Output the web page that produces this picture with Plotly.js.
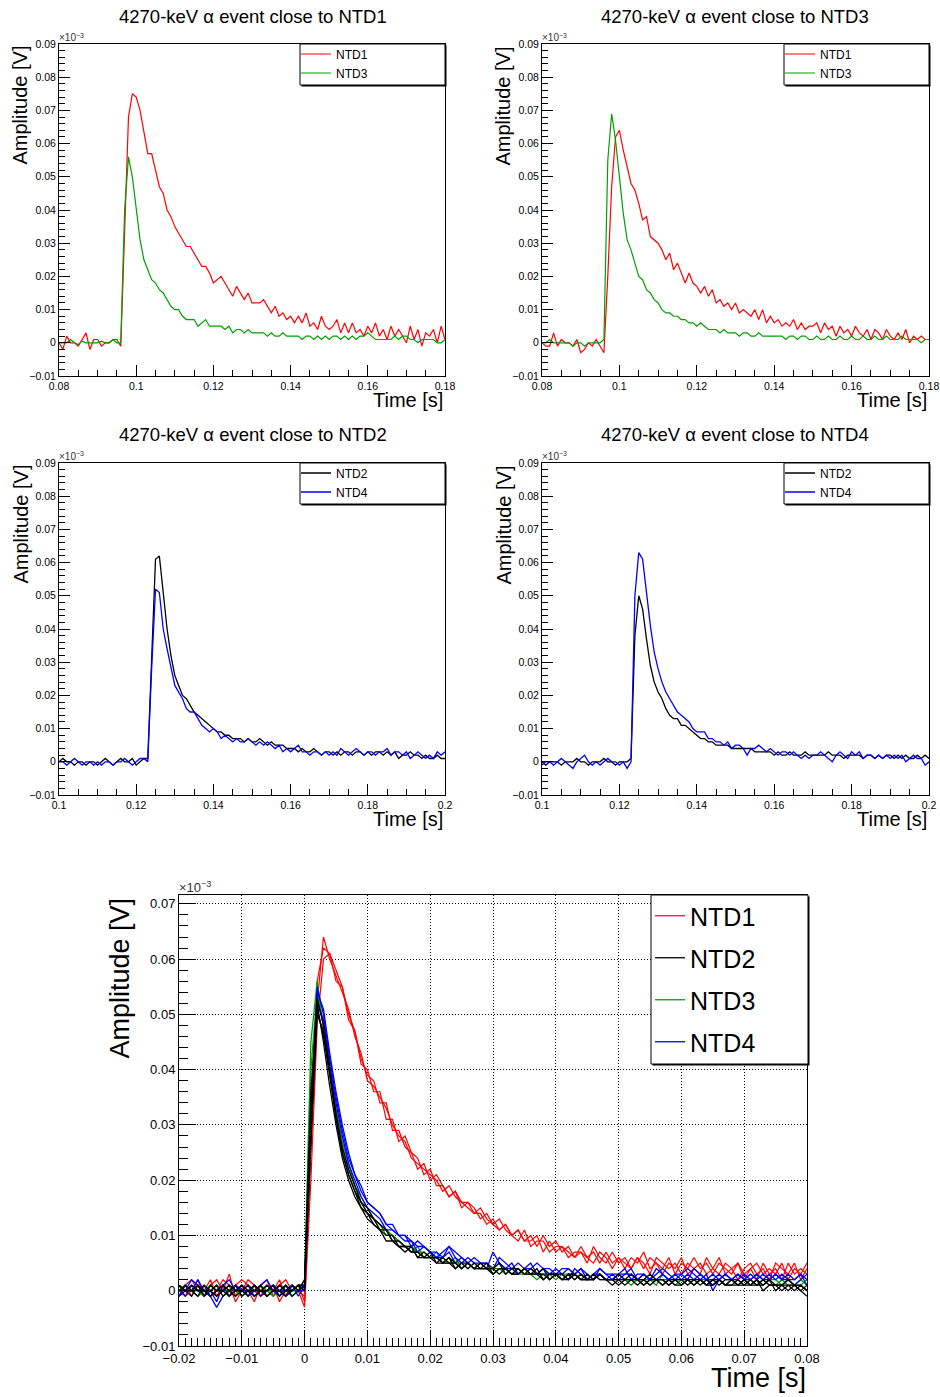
<!DOCTYPE html>
<html><head><meta charset="utf-8">
<script src="https://cdn.plot.ly/plotly-3.0.1.min.js"></script>
<style>html,body{margin:0;padding:0;background:#fff}#chart{width:940px;height:1397px}</style>
</head><body><div id="chart"></div>
<script>
// ---------- DATA (amplitudes in axis units, sampled every sampleStep seconds) ----------
const sampleStep = 0.001;
const evt1Start = 0.08, evt3Start = 0.08, evt2Start = 0.10, evt4Start = 0.10, overlayStart = -0.02;

const panelTitles = ["4270-keV \u03b1 event close to NTD1", "4270-keV \u03b1 event close to NTD3",
                     "4270-keV \u03b1 event close to NTD2", "4270-keV \u03b1 event close to NTD4"];
const channelNames = ["NTD1", "NTD2", "NTD3", "NTD4"];

// Panel 1: event close to NTD1
const evt1_NTD1 = [
 0.000,-0.002,0.002,0.000,0.000,-0.001,0.001,0.003,-0.002,0.001,
 0.001,-0.001,0.000,0.000,0.001,0.001,-0.001,0.035,0.068,0.075,
 0.074,0.070,0.064,0.057,0.057,0.052,0.047,0.045,0.040,0.038,
 0.035,0.033,0.031,0.029,0.029,0.027,0.025,0.023,0.023,0.021,
 0.018,0.019,0.020,0.018,0.016,0.014,0.017,0.015,0.013,0.015,
 0.012,0.012,0.012,0.013,0.011,0.009,0.011,0.008,0.009,0.007,
 0.008,0.006,0.008,0.006,0.009,0.005,0.006,0.004,0.008,0.005,
 0.004,0.005,0.007,0.003,0.006,0.003,0.006,0.003,0.004,0.002,
 0.005,0.003,0.006,0.002,0.004,0.001,0.005,0.002,0.004,0.002,
 0.000,0.005,0.001,0.004,-0.001,0.003,0.002,0.004,0.000,0.005,
 0.001];
const evt1_NTD3 = [
 0.000,0.000,0.000,0.001,0.000,-0.0005,0.0005,0.000,0.000,0.000,
 0.000,0.0005,0.000,0.000,0.001,0.000,0.000,0.040,0.056,0.050,
 0.041,0.031,0.025,0.022,0.019,0.018,0.016,0.015,0.013,0.011,
 0.010,0.010,0.008,0.007,0.007,0.007,0.005,0.006,0.007,0.005,
 0.005,0.005,0.005,0.004,0.005,0.003,0.004,0.004,0.003,0.004,
 0.003,0.003,0.003,0.003,0.002,0.003,0.002,0.002,0.003,0.002,
 0.002,0.002,0.002,0.001,0.002,0.002,0.001,0.002,0.001,0.002,
 0.001,0.002,0.002,0.001,0.002,0.001,0.002,0.001,0.002,0.002,
 0.003,0.002,0.001,0.001,0.001,0.001,0.001,0.002,0.001,0.002,
 0.002,0.001,0.001,0.000,0.001,0.001,0.001,0.001,0.000,0.000,
 0.001];

// Panel 2: event close to NTD3
const evt3_NTD1 = [
 0.000,-0.001,-0.001,0.003,-0.001,0.001,0.000,0.000,-0.001,0.001,
 -0.003,-0.002,0.000,-0.001,0.001,-0.001,-0.003,0.020,0.047,0.062,
 0.064,0.058,0.053,0.048,0.046,0.042,0.037,0.038,0.032,0.031,
 0.030,0.028,0.025,0.027,0.022,0.024,0.021,0.018,0.021,0.018,
 0.017,0.015,0.017,0.014,0.016,0.012,0.013,0.011,0.012,0.010,
 0.012,0.009,0.010,0.009,0.008,0.010,0.007,0.010,0.006,0.008,
 0.006,0.007,0.005,0.006,0.005,0.007,0.004,0.006,0.004,0.005,
 0.005,0.006,0.003,0.006,0.004,0.005,0.002,0.005,0.003,0.004,
 0.002,0.005,0.003,0.002,0.004,0.001,0.004,0.003,0.001,0.004,
 0.002,0.001,0.003,0.001,0.004,0.000,0.002,0.001,0.002,0.001,
 0.001];
const evt3_NTD3 = [
 0.000,0.000,0.001,0.000,0.000,0.000,0.000,0.000,-0.001,0.000,
 0.000,-0.001,0.000,0.000,0.000,0.000,0.001,0.055,0.069,0.061,
 0.050,0.039,0.031,0.028,0.024,0.020,0.019,0.016,0.015,0.013,
 0.012,0.010,0.009,0.009,0.008,0.008,0.007,0.007,0.006,0.006,
 0.005,0.006,0.005,0.004,0.004,0.004,0.003,0.004,0.003,0.003,
 0.003,0.002,0.003,0.003,0.002,0.002,0.003,0.002,0.002,0.002,
 0.002,0.002,0.002,0.001,0.002,0.002,0.001,0.002,0.002,0.001,
 0.001,0.002,0.001,0.001,0.002,0.001,0.001,0.002,0.001,0.001,
 0.002,0.001,0.001,0.002,0.001,0.001,0.002,0.001,0.001,0.002,
 0.001,0.001,0.001,0.002,0.001,0.001,0.001,0.001,0.000,0.001,
 0.001];

// Panel 3: event close to NTD2
const evt2_NTD2 = [
 0.000,0.001,0.000,0.000,-0.001,0.000,0.000,-0.001,0.000,0.000,
 -0.001,0.000,0.001,0.000,-0.001,0.000,0.001,0.000,0.000,0.001,
 -0.001,0.000,0.001,0.001,0.032,0.061,0.062,0.050,0.040,0.032,
 0.026,0.023,0.020,0.019,0.017,0.015,0.014,0.013,0.012,0.011,
 0.010,0.009,0.009,0.008,0.008,0.007,0.007,0.007,0.006,0.007,
 0.006,0.006,0.007,0.006,0.005,0.006,0.005,0.005,0.005,0.004,
 0.004,0.004,0.003,0.004,0.003,0.003,0.004,0.003,0.002,0.003,
 0.003,0.002,0.003,0.002,0.003,0.003,0.002,0.003,0.003,0.002,
 0.003,0.002,0.003,0.003,0.002,0.003,0.002,0.003,0.001,0.002,
 0.002,0.003,0.002,0.002,0.001,0.002,0.001,0.001,0.002,0.001,
 0.001];
const evt2_NTD4 = [
 0.000,0.000,-0.001,0.000,0.001,0.000,-0.001,0.000,0.000,-0.001,
 0.000,-0.001,0.000,0.000,-0.001,0.000,0.000,0.001,0.000,-0.001,
 0.000,0.001,0.001,0.000,0.028,0.052,0.051,0.040,0.034,0.028,
 0.023,0.021,0.019,0.016,0.015,0.015,0.013,0.011,0.010,0.009,
 0.010,0.009,0.007,0.008,0.007,0.006,0.007,0.006,0.006,0.007,
 0.006,0.005,0.006,0.005,0.006,0.005,0.004,0.005,0.003,0.004,
 0.003,0.004,0.005,0.003,0.003,0.002,0.003,0.003,0.002,0.003,
 0.002,0.003,0.002,0.004,0.003,0.002,0.003,0.004,0.003,0.002,
 0.003,0.003,0.002,0.003,0.003,0.004,0.002,0.003,0.003,0.002,
 0.003,0.001,0.002,0.003,0.002,0.001,0.002,0.001,0.003,0.002,
 0.003];

// Panel 4: event close to NTD4
const evt4_NTD2 = [
 0.000,-0.001,0.000,0.000,0.000,-0.001,0.000,0.000,0.000,0.001,
 0.000,0.000,-0.001,0.000,0.000,0.000,0.001,0.000,0.000,-0.001,
 0.000,0.000,0.000,0.001,0.038,0.050,0.046,0.037,0.029,0.024,
 0.021,0.019,0.016,0.014,0.013,0.013,0.011,0.011,0.010,0.009,
 0.008,0.007,0.007,0.006,0.006,0.005,0.005,0.005,0.005,0.004,
 0.004,0.004,0.004,0.004,0.004,0.003,0.003,0.003,0.003,0.003,
 0.002,0.003,0.002,0.002,0.003,0.002,0.002,0.002,0.003,0.002,
 0.002,0.002,0.002,0.002,0.003,0.002,0.002,0.002,0.001,0.002,
 0.002,0.002,0.002,0.001,0.002,0.002,0.001,0.002,0.001,0.002,
 0.002,0.001,0.002,0.001,0.002,0.001,0.001,0.002,0.001,0.002,
 0.001];
const evt4_NTD4 = [
 -0.001,0.000,0.000,-0.001,0.000,0.001,0.000,-0.001,-0.002,0.000,
 0.001,0.002,0.000,-0.001,0.000,-0.001,0.000,0.001,0.000,0.000,
 -0.001,0.000,-0.002,0.000,0.050,0.063,0.061,0.050,0.041,0.033,
 0.028,0.024,0.021,0.019,0.017,0.015,0.014,0.013,0.012,0.010,
 0.009,0.009,0.009,0.007,0.007,0.006,0.006,0.005,0.006,0.004,
 0.005,0.005,0.004,0.002,0.004,0.004,0.005,0.004,0.003,0.004,
 0.003,0.002,0.003,0.003,0.002,0.003,0.002,0.001,0.002,0.001,
 0.002,0.002,0.003,0.002,0.001,0.000,0.002,0.003,0.002,0.001,
 0.003,0.002,0.003,0.001,0.002,0.002,0.001,0.002,0.001,0.002,
 0.001,0.002,0.001,0.002,0.000,0.001,0.002,0.001,0.001,-0.001,
 0.000];

// Bottom panel: overlaid events, aligned at the rise
const overlay_NTD1 = [
 [0.001,-0.001,0.000,0.002,-0.001,0.001,0.002,0.000,0.003,-0.001,
  0.001,0.000,-0.002,0.001,0.002,-0.001,0.001,0.002,0.000,0.001,
  -0.002,0.025,0.052,0.064,0.060,0.057,0.054,0.051,0.046,0.043,
  0.038,0.037,0.035,0.033,0.030,0.028,0.027,0.024,0.023,0.022,
  0.021,0.020,0.018,0.019,0.017,0.016,0.016,0.014,0.015,0.013,
  0.012,0.013,0.011,0.010,0.011,0.009,0.010,0.008,0.010,0.008,
  0.009,0.007,0.008,0.006,0.008,0.006,0.007,0.005,0.007,0.005,
  0.006,0.004,0.006,0.005,0.007,0.004,0.005,0.004,0.006,0.003,
  0.005,0.004,0.006,0.004,0.005,0.003,0.005,0.004,0.003,0.005,
  0.003,0.004,0.002,0.005,0.003,0.004,0.002,0.005,0.003,0.004,
  0.003],
 [-0.001,0.001,0.002,0.000,-0.001,0.001,0.000,0.002,0.001,-0.002,
  0.000,0.002,0.001,-0.001,0.000,0.001,-0.002,0.000,0.001,0.000,
  -0.003,0.020,0.048,0.060,0.061,0.058,0.055,0.050,0.047,0.041,
  0.040,0.036,0.036,0.031,0.031,0.027,0.028,0.025,0.022,0.023,
  0.020,0.021,0.019,0.017,0.018,0.015,0.016,0.015,0.013,0.014,
  0.012,0.011,0.012,0.010,0.009,0.011,0.008,0.009,0.009,0.007,
  0.008,0.008,0.006,0.007,0.007,0.005,0.008,0.006,0.005,0.007,
  0.005,0.006,0.004,0.006,0.005,0.003,0.006,0.005,0.004,0.005,
  0.003,0.005,0.004,0.003,0.006,0.004,0.003,0.005,0.004,0.002,
  0.004,0.005,0.003,0.004,0.002,0.005,0.004,0.003,0.005,0.002,
  0.004],
 [0.000,0.001,-0.001,0.001,0.000,0.002,-0.001,0.001,0.000,0.001,
  0.002,0.001,0.000,-0.001,0.001,0.000,0.002,-0.001,0.001,0.000,
  -0.001,0.030,0.056,0.062,0.061,0.056,0.055,0.049,0.047,0.042,
  0.039,0.038,0.034,0.034,0.029,0.029,0.026,0.025,0.024,0.021,
  0.022,0.019,0.019,0.017,0.018,0.016,0.015,0.014,0.014,0.012,
  0.013,0.011,0.012,0.010,0.011,0.009,0.009,0.010,0.007,0.009,
  0.007,0.008,0.007,0.006,0.007,0.006,0.005,0.007,0.006,0.004,
  0.006,0.005,0.004,0.006,0.004,0.006,0.005,0.003,0.005,0.004,
  0.006,0.003,0.004,0.005,0.003,0.004,0.006,0.003,0.004,0.005,
  0.002,0.004,0.005,0.003,0.004,0.003,0.005,0.002,0.004,0.003,
  0.005]
];
const overlay_NTD2 = [
 [0.001,0.000,-0.001,0.001,0.000,0.000,0.001,-0.001,0.000,0.001,
  -0.001,0.000,0.000,0.001,-0.001,0.000,0.000,0.001,-0.001,0.000,
  0.001,0.030,0.051,0.046,0.039,0.031,0.025,0.021,0.018,0.016,
  0.014,0.013,0.011,0.010,0.010,0.008,0.008,0.008,0.006,0.007,
  0.006,0.006,0.005,0.006,0.004,0.005,0.005,0.004,0.005,0.004,
  0.004,0.005,0.003,0.004,0.004,0.003,0.004,0.003,0.004,0.002,
  0.003,0.003,0.002,0.003,0.002,0.003,0.002,0.003,0.002,0.002,
  0.003,0.002,0.002,0.001,0.002,0.003,0.002,0.001,0.002,0.002,
  0.002,0.001,0.002,0.002,0.001,0.002,0.001,0.002,0.002,0.001,
  0.002,0.001,0.002,0.001,0.002,0.000,0.001,0.002,0.001,0.000,
  0.001],
 [0.000,0.001,0.000,-0.001,0.001,0.000,-0.001,0.000,0.001,0.000,
  0.000,-0.001,0.001,0.000,0.000,0.001,-0.001,0.000,0.001,0.000,
  0.002,0.036,0.052,0.045,0.037,0.030,0.024,0.020,0.017,0.015,
  0.013,0.012,0.011,0.009,0.009,0.008,0.007,0.008,0.006,0.006,
  0.006,0.005,0.006,0.005,0.004,0.005,0.004,0.005,0.004,0.004,
  0.003,0.004,0.004,0.003,0.004,0.003,0.003,0.004,0.002,0.003,
  0.003,0.002,0.003,0.002,0.003,0.002,0.002,0.003,0.002,0.001,
  0.002,0.002,0.003,0.002,0.001,0.002,0.002,0.001,0.002,0.001,
  0.001,0.002,0.002,0.001,0.002,0.001,0.002,0.001,0.001,0.002,
  0.001,0.002,0.001,0.001,0.002,0.001,0.001,0.000,0.001,0.001,
  0.000],
 [-0.001,0.000,0.001,0.000,0.000,-0.001,0.000,0.001,0.000,-0.001,
  0.000,0.001,0.000,0.000,-0.001,0.000,0.001,0.000,0.000,0.001,
  0.000,0.027,0.050,0.047,0.040,0.032,0.026,0.022,0.019,0.016,
  0.015,0.013,0.012,0.011,0.009,0.009,0.008,0.007,0.007,0.006,
  0.007,0.005,0.005,0.006,0.005,0.004,0.005,0.004,0.004,0.005,
  0.003,0.004,0.004,0.003,0.003,0.004,0.003,0.003,0.003,0.002,
  0.003,0.002,0.003,0.003,0.002,0.002,0.003,0.002,0.002,0.002,
  0.001,0.002,0.002,0.002,0.001,0.002,0.002,0.002,0.001,0.002,
  0.002,0.002,0.001,0.002,0.001,0.002,0.002,0.001,0.001,0.001,
  0.002,0.001,0.001,0.002,0.001,0.001,0.001,0.001,0.000,0.001,
  0.000],
 [0.001,0.000,0.000,0.001,-0.001,0.001,0.000,0.000,-0.001,0.000,
  0.001,0.000,-0.001,0.000,0.001,0.000,0.000,-0.001,0.000,0.001,
  0.001,0.033,0.053,0.048,0.040,0.032,0.025,0.021,0.018,0.015,
  0.014,0.012,0.011,0.011,0.009,0.008,0.008,0.007,0.007,0.006,
  0.006,0.006,0.005,0.005,0.005,0.004,0.005,0.004,0.004,0.004,
  0.004,0.003,0.004,0.003,0.003,0.004,0.003,0.003,0.002,0.003,
  0.003,0.002,0.002,0.003,0.002,0.002,0.002,0.003,0.002,0.002,
  0.002,0.001,0.002,0.002,0.002,0.001,0.002,0.002,0.001,0.002,
  0.001,0.002,0.001,0.002,0.001,0.001,0.002,0.001,0.002,0.001,
  0.001,0.001,0.002,0.000,0.001,0.001,0.000,0.001,0.001,0.000,
  -0.001]
];
const overlay_NTD3 = [
 [0.000,0.001,0.000,0.000,-0.001,0.000,0.001,0.000,0.000,0.001,
  0.000,0.000,0.001,0.000,0.000,-0.001,0.000,0.001,0.000,0.000,
  0.002,0.045,0.056,0.047,0.039,0.032,0.026,0.022,0.019,0.016,
  0.014,0.013,0.012,0.011,0.010,0.009,0.008,0.008,0.007,0.007,
  0.006,0.006,0.006,0.005,0.005,0.005,0.004,0.005,0.004,0.004,
  0.004,0.004,0.003,0.004,0.003,0.003,0.003,0.003,0.003,0.003,
  0.003,0.002,0.003,0.003,0.002,0.002,0.003,0.002,0.002,0.002,
  0.002,0.002,0.002,0.002,0.002,0.001,0.002,0.002,0.002,0.001,
  0.002,0.002,0.001,0.002,0.002,0.001,0.002,0.001,0.002,0.002,
  0.001,0.002,0.001,0.002,0.001,0.001,0.002,0.001,0.001,0.002,
  0.001],
 [0.001,0.000,0.000,-0.001,0.000,0.001,0.000,0.000,0.001,0.000,
  -0.001,0.000,0.000,0.001,0.000,0.000,0.001,0.000,-0.001,0.000,
  0.001,0.040,0.054,0.048,0.040,0.033,0.027,0.023,0.019,0.017,
  0.015,0.013,0.012,0.010,0.010,0.009,0.008,0.007,0.008,0.006,
  0.006,0.007,0.005,0.005,0.006,0.004,0.005,0.004,0.005,0.004,
  0.003,0.004,0.004,0.003,0.004,0.003,0.003,0.002,0.003,0.003,
  0.002,0.003,0.003,0.002,0.003,0.002,0.002,0.003,0.002,0.002,
  0.003,0.002,0.001,0.002,0.002,0.002,0.001,0.003,0.002,0.002,
  0.001,0.002,0.002,0.002,0.001,0.002,0.002,0.001,0.002,0.001,
  0.002,0.001,0.002,0.001,0.002,0.002,0.001,0.002,0.001,0.001,
  0.002]
];
const overlay_NTD4 = [
 [0.001,0.000,0.002,0.001,-0.001,0.000,-0.002,0.001,0.002,0.000,
  0.001,-0.001,0.000,0.001,0.002,0.000,-0.001,0.001,0.000,0.001,
  0.001,0.032,0.055,0.050,0.042,0.035,0.029,0.024,0.021,0.018,
  0.016,0.015,0.014,0.012,0.011,0.010,0.010,0.009,0.008,0.008,
  0.007,0.007,0.006,0.008,0.007,0.006,0.005,0.006,0.005,0.005,
  0.004,0.006,0.005,0.004,0.005,0.004,0.004,0.005,0.004,0.003,
  0.004,0.003,0.004,0.003,0.004,0.003,0.002,0.004,0.003,0.003,
  0.003,0.004,0.002,0.003,0.003,0.002,0.004,0.003,0.002,0.003,
  0.003,0.002,0.004,0.003,0.002,0.003,0.002,0.003,0.002,0.002,
  0.003,0.002,0.003,0.002,0.003,0.002,0.003,0.002,0.002,0.003,
  0.002],
 [0.000,-0.001,0.001,0.000,0.001,-0.001,-0.003,-0.001,0.000,0.001,
  0.000,0.001,-0.001,0.000,0.000,0.001,0.000,-0.001,0.001,0.000,
  0.000,0.028,0.054,0.051,0.043,0.036,0.030,0.025,0.021,0.019,
  0.016,0.015,0.014,0.012,0.012,0.010,0.010,0.008,0.009,0.008,
  0.007,0.006,0.007,0.008,0.006,0.005,0.006,0.005,0.005,0.004,
  0.007,0.005,0.004,0.005,0.003,0.004,0.005,0.003,0.004,0.004,
  0.003,0.004,0.004,0.003,0.004,0.002,0.003,0.004,0.003,0.002,
  0.003,0.003,0.004,0.002,0.003,0.002,0.003,0.004,0.003,0.002,
  0.003,0.004,0.003,0.002,0.003,0.000,0.002,0.003,0.002,0.003,
  0.002,0.003,0.002,0.003,0.002,0.003,0.002,0.003,0.002,0.003,
  0.001],
 [-0.001,0.001,0.000,0.002,0.000,-0.001,0.000,0.001,-0.001,0.001,
  0.000,0.000,0.001,-0.001,0.000,0.001,0.000,0.000,0.001,-0.001,
  0.001,0.030,0.052,0.049,0.041,0.034,0.028,0.023,0.020,0.017,
  0.015,0.014,0.013,0.011,0.011,0.010,0.009,0.009,0.007,0.008,
  0.007,0.006,0.006,0.007,0.005,0.006,0.005,0.004,0.005,0.005,
  0.004,0.005,0.004,0.004,0.003,0.004,0.004,0.003,0.004,0.003,
  0.003,0.003,0.002,0.004,0.003,0.002,0.003,0.003,0.002,0.003,
  0.002,0.003,0.003,0.002,0.003,0.002,0.002,0.003,0.002,0.003,
  0.002,0.003,0.002,0.003,0.002,0.002,0.003,0.002,0.002,0.003,
  0.002,0.002,0.003,0.002,0.002,0.003,0.002,0.002,0.001,0.002,
  0.003]
];

// ---------- STYLE / LAYOUT ----------
const W = 940, H = 1397;
const FONT = "Liberation Sans, Arial, Helvetica, sans-serif";
const COL = {NTD1: "#ff0000", NTD2: "#000000", NTD3: "#00a000", NTD4: "#0000ff"};
const px = v => v / W, py = v => 1 - v / H;

// plot-area boxes in pixels [left, top, right, bottom]
const boxes = [[59, 44, 445, 376], [542, 44, 929, 376], [59, 463, 445, 795], [542, 463, 929, 795], [179, 895, 807, 1346]];

function topAxes(i, xr) {
  const b = boxes[i];
  const common = {ticks: "inside", tickwidth: 1, tickcolor: "#000", showline: true, mirror: true,
    linecolor: "#000", linewidth: 1, showgrid: false, zeroline: false, fixedrange: true,
    tickfont: {family: FONT, size: 10.5, color: "#000"}};
  const xa = Object.assign({}, common, {domain: [px(b[0]), px(b[2])], range: xr, dtick: 0.02, tick0: 0,
    ticklen: 11, anchor: "y" + (i + 1),
    minor: {ticks: "inside", ticklen: 6, dtick: 0.005, tick0: 0, tickcolor: "#000", tickwidth: 1}});
  const ya = Object.assign({}, common, {domain: [py(b[3]), py(b[1])], range: [-0.01, 0.09], dtick: 0.01, tick0: 0,
    ticklen: 11, anchor: "x" + (i + 1),
    minor: {ticks: "inside", ticklen: 6, dtick: 0.002, tick0: 0, tickcolor: "#000", tickwidth: 1}});
  return [xa, ya];
}

const traces = [];
function addTrace(axisIdx, y, start, ch, leg, show, lw, rank) {
  traces.push({type: "scatter", mode: "lines", x0: start, dx: sampleStep, y: y, name: ch,
    xaxis: "x" + axisIdx, yaxis: "y" + axisIdx, line: {color: COL[ch], width: lw},
    legend: leg, showlegend: show, legendgroup: leg + ch, legendrank: rank, hoverinfo: "skip"});
}
addTrace(1, evt1_NTD1, evt1Start, "NTD1", "legend", true, 1.2, 1);
addTrace(1, evt1_NTD3, evt1Start, "NTD3", "legend", true, 1.2, 2);
addTrace(2, evt3_NTD1, evt3Start, "NTD1", "legend2", true, 1.2, 1);
addTrace(2, evt3_NTD3, evt3Start, "NTD3", "legend2", true, 1.2, 2);
addTrace(3, evt2_NTD2, evt2Start, "NTD2", "legend3", true, 1.3, 1);
addTrace(3, evt2_NTD4, evt2Start, "NTD4", "legend3", true, 1.3, 2);
addTrace(4, evt4_NTD2, evt4Start, "NTD2", "legend4", true, 1.3, 1);
addTrace(4, evt4_NTD4, evt4Start, "NTD4", "legend4", true, 1.3, 2);
overlay_NTD1.forEach((y, k) => addTrace(5, y, overlayStart, "NTD1", "legend5", k === 0, 1.2, 1));
overlay_NTD3.forEach((y, k) => addTrace(5, y, overlayStart, "NTD3", "legend5", k === 0, 1.3, 3));
overlay_NTD4.forEach((y, k) => addTrace(5, y, overlayStart, "NTD4", "legend5", k === 0, 1.3, 4));
overlay_NTD2.forEach((y, k) => addTrace(5, y, overlayStart, "NTD2", "legend5", k === 0, 1.3, 2));

const layout = {width: W, height: H, margin: {l: 0, r: 0, t: 0, b: 0}, paper_bgcolor: "#fff", plot_bgcolor: "#fff",
  font: {family: FONT, color: "#000"}, annotations: [], shapes: []};
[[0.08, 0.18], [0.08, 0.18], [0.10, 0.20], [0.10, 0.20]].forEach((xr, i) => {
  const [xa, ya] = topAxes(i, xr);
  layout["xaxis" + (i + 1)] = xa; layout["yaxis" + (i + 1)] = ya;
});
{
  const b = boxes[4];
  const common = {ticks: "inside", tickwidth: 1, tickcolor: "#000", showline: true, mirror: true,
    linecolor: "#000", linewidth: 1, showgrid: true, gridcolor: "#000", griddash: "1px,2px", gridwidth: 1,
    zeroline: false, fixedrange: true, tickfont: {family: FONT, size: 13, color: "#000"}};
  layout.xaxis5 = Object.assign({}, common, {domain: [px(b[0]), px(b[2])], range: [-0.02, 0.08], dtick: 0.01, tick0: 0,
    ticklen: 15, anchor: "y5", minor: {ticks: "inside", ticklen: 8, dtick: 0.001, tick0: 0, tickcolor: "#000", showgrid: false}});
  layout.yaxis5 = Object.assign({}, common, {domain: [py(b[3]), py(b[1])], range: [-0.01, 0.0716], dtick: 0.01, tick0: 0,
    ticklen: 17, anchor: "x5", minor: {ticks: "inside", ticklen: 9, dtick: 0.002, tick0: 0, tickcolor: "#000", showgrid: false}});
}

// titles
const titlePos = [[253, 17], [735, 17], [253, 435], [735, 435]];
panelTitles.forEach((t, i) => layout.annotations.push({text: t, xref: "paper", yref: "paper", x: px(titlePos[i][0]),
  y: py(titlePos[i][1]), xanchor: "center", yanchor: "middle", showarrow: false, font: {family: FONT, size: 18.5}}));

// axis titles and exponent labels ("×10" with a raised "−3")
const axisTitleSpec = [
  {yt: [20, 44, 20], xt: [445, 400, 20], ex: [58, 44, 10]},
  {yt: [503, 44, 20], xt: [929, 400, 20], ex: [541, 44, 10]},
  {yt: [20, 463, 20], xt: [445, 819, 20], ex: [58, 463, 10]},
  {yt: [503, 463, 20], xt: [929, 819, 20], ex: [541, 463, 10]},
  {yt: [120, 895, 27], xt: [808, 1378, 27], ex: [178, 896, 13]}
];
axisTitleSpec.forEach(s => {
  layout.annotations.push({text: "Amplitude [V]", textangle: -90, xref: "paper", yref: "paper", x: px(s.yt[0]), y: py(s.yt[1]),
    xanchor: "center", yanchor: "top", showarrow: false, font: {family: FONT, size: s.yt[2]}});
  layout.annotations.push({text: "Time [s]", xref: "paper", yref: "paper", x: px(s.xt[0]), y: py(s.xt[1]),
    xanchor: "right", yanchor: "middle", showarrow: false, font: {family: FONT, size: s.xt[2]}});
  const f = s.ex[2];
  layout.annotations.push({text: "\u00d710", xref: "paper", yref: "paper", x: px(s.ex[0]), y: py(s.ex[1]),
    xanchor: "left", yanchor: "bottom", showarrow: false, borderpad: 0, font: {family: FONT, size: f, color: "#333"}});
  layout.annotations.push({text: "\u22123", xref: "paper", yref: "paper", x: px(s.ex[0] + f * 1.72), y: py(s.ex[1] - f * 0.45),
    xanchor: "left", yanchor: "bottom", showarrow: false, borderpad: 0, font: {family: FONT, size: f * 0.7, color: "#333"}});
});

// legend boxes (with ROOT-like shadow)
const legBoxes = [[300, 44, 445, 85], [784, 44, 929, 85], [300, 463, 445, 504], [784, 463, 929, 504], [651, 895, 808, 1064]];
legBoxes.forEach(b => {
  layout.shapes.push({type: "rect", xref: "paper", yref: "paper", x0: px(b[0] + 1.5), x1: px(b[2] + 1.5),
    y0: py(b[3] + 1.5), y1: py(b[1] + 1.5), line: {width: 0}, fillcolor: "#000", layer: "above"});
  layout.shapes.push({type: "rect", xref: "paper", yref: "paper", x0: px(b[0]), x1: px(b[2]),
    y0: py(b[3]), y1: py(b[1]), line: {width: 1, color: "#000"}, fillcolor: "#fff", layer: "above"});
});
const legPos = [[296, 39.5, 12, 0], [780, 39.5, 12, 0], [296, 458.5, 12, 0], [780, 458.5, 12, 0], [650, 893, 25, 6.5]];
["legend", "legend2", "legend3", "legend4", "legend5"].forEach((k, i) => {
  const p = legPos[i];
  layout[k] = {x: px(p[0]), y: py(p[1]), xanchor: "left", yanchor: "top", bgcolor: "rgba(0,0,0,0)", borderwidth: 0,
    font: {family: FONT, size: p[2], color: "#000"}, tracegroupgap: p[3], itemwidth: 30, itemclick: false, itemdoubleclick: false};
});

Plotly.newPlot("chart", traces, layout, {displayModeBar: false, staticPlot: true});
</script>
</body></html>
